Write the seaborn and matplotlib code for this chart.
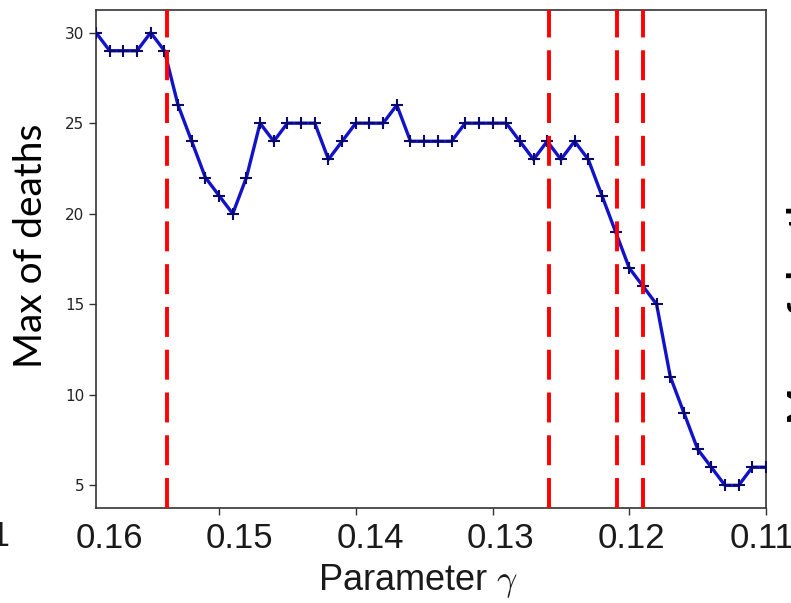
import matplotlib
matplotlib.use("Agg")
import matplotlib.pyplot as plt
import seaborn as sns
import pandas as pd

gamma = [0.159, 0.158, 0.157, 0.156, 0.155, 0.154, 0.153, 0.152, 0.151, 0.150,
         0.149, 0.148, 0.147, 0.146, 0.145, 0.144, 0.143, 0.142, 0.141, 0.140,
         0.139, 0.138, 0.137, 0.136, 0.135, 0.134, 0.133, 0.132, 0.131, 0.130,
         0.129, 0.128, 0.127, 0.126, 0.125, 0.124, 0.123, 0.122, 0.121, 0.120,
         0.119, 0.118, 0.117, 0.116, 0.115, 0.114, 0.113, 0.112, 0.111, 0.110]
max_deaths = [30, 29, 29, 29, 30, 29, 26, 24, 22, 21,
              20, 22, 25, 24, 25, 25, 25, 23, 24, 25,
              25, 25, 26, 24, 24, 24, 24, 25, 25, 25,
              25, 24, 23, 24, 23, 24, 23, 21, 19, 17,
              16, 15, 11, 9, 7, 6, 5, 5, 6, 6]
red_lines = [0.1538, 0.1259, 0.1209, 0.1190]
axis_ticks = [0.15, 0.14, 0.13, 0.12, 0.11]
label_ticks = [0.16, 0.15, 0.14, 0.13, 0.12, 0.11]
label_texts = ["0.16", "0.15", "0.14", "0.13", "0.12", "0.11"]
y_ticks = [5, 10, 15, 20, 25, 30]

sns.set_theme(style="ticks")
plt.rcParams["font.family"] = ["DejaVu Sans"]
plt.rcParams["mathtext.fontset"] = "cm"

W, H = 791, 603
fig = plt.figure(figsize=(W / 100, H / 100), dpi=100)
left, right, bottom, top = 96, 766, 508, 10
pos = [left / W, (H - bottom) / H, (right - left) / W, (bottom - top) / H]
ax = fig.add_axes(pos)

df = pd.DataFrame({"gamma": gamma, "deaths": max_deaths})
sns.lineplot(data=df, x="gamma", y="deaths", ax=ax, color="#1212c8",
             linewidth=2.4, marker="+", markersize=9,
             markeredgecolor="#0a0a6e", markeredgewidth=1.5, zorder=3)
for v in red_lines:
    ax.axvline(v, color="#ff0000", linewidth=2.8, linestyle=(0, (7.7, 3.3)), zorder=4)

ax.set_xlim(0.159, 0.110)
ax.set_ylim(3.75, 31.25)
ax.set_xticks(axis_ticks)
ax.set_xticklabels([])
ax.set_yticks(y_ticks)
ax.set_yticklabels([str(t) for t in y_ticks], fontsize=11, color="#222222")
ax.tick_params(axis="both", length=5, width=1, color="#333333")
ax.set_xlabel("")
ax.set_ylabel("")
for s in ax.spines.values():
    s.set_visible(True)
    s.set_color("#333333")
    s.set_linewidth(1.2)

# overlay tick labels (pasted scale)
ax2 = fig.add_axes(pos, frameon=False)
ax2.patch.set_alpha(0)
p0, s10 = 109, 130.6
ax2.set_xlim(0.16 + (p0 - left) / s10 * 0.01, 0.16 - (right - p0) / s10 * 0.01)
ax2.set_ylim(0, 1)
ax2.set_yticks([])
ax2.set_xticks(label_ticks)
ax2.set_xticklabels(label_texts, fontfamily="Liberation Sans", fontsize=25, color="#1a1a1a")
ax2.tick_params(axis="x", length=0, pad=10)

fig.text(418 / W, 13 / H, r"Parameter $\gamma$", fontfamily="Liberation Sans",
         fontsize=26, color="#1a1a1a", ha="center", va="baseline")
fig.text(31 / W, (H - 246) / H, "Max of deaths", fontfamily="Lato", fontsize=28,
         rotation=90, ha="center", va="center", color="black")
fig.text(11 / W, (H - 537) / H, "0.11", fontfamily="Liberation Sans", fontsize=25,
         ha="right", va="center", color="#1a1a1a")
fig.text(805 / W, (H - 300) / H, "Max of deaths", fontfamily="Lato", fontsize=28,
         fontweight="bold", rotation=90, ha="center", va="center", color="black")

fig.savefig("out.png", dpi=100, facecolor="white")
